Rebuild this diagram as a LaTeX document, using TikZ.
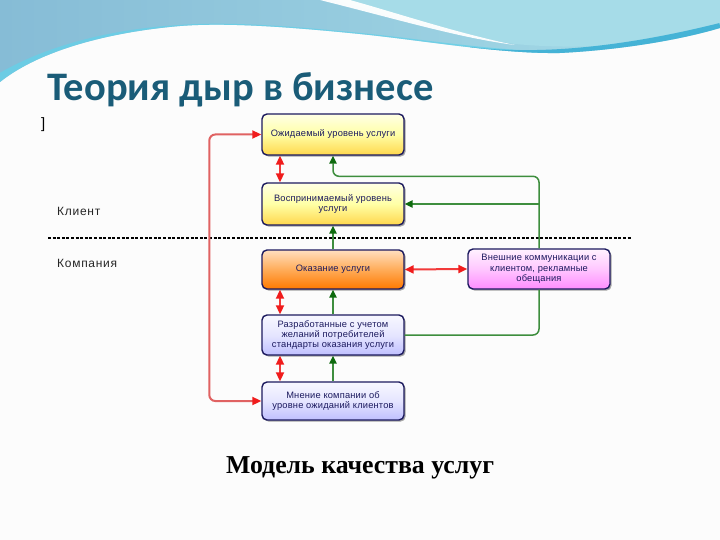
\documentclass[tikz,border=0pt]{standalone}
\usepackage{fontspec}
\setmainfont{Liberation Sans}
\newfontfamily\titlefont{Carlito}
\newfontfamily\capfont{Liberation Serif}
\newfontfamily\boxfont[LetterSpace=2]{Liberation Sans}
\newfontfamily\lblfont[LetterSpace=6]{Liberation Sans}
\usetikzlibrary{arrows.meta,shadows,positioning}
\definecolor{navy}{HTML}{1C1A5E}
\definecolor{titlec}{HTML}{1A5C78}
\definecolor{redl}{HTML}{E06262}
\definecolor{redh}{HTML}{F01C1C}
\definecolor{redm}{HTML}{F23A3A}
\definecolor{greenl}{HTML}{3E8E3E}
\definecolor{greenh}{HTML}{0E6A0E}
\definecolor{bgc}{HTML}{FCFCFC}
\definecolor{wavea}{HTML}{86BCD6}
\definecolor{waveb}{HTML}{A6DCE8}
\definecolor{wavec}{HTML}{66D0E8}
\definecolor{waved}{HTML}{45B3D6}
\tikzset{
  box/.style={draw=navy, line width=1.4pt, rounded corners=5pt,
    minimum width=142pt, align=center, inner sep=2pt, text=navy,
    font=\boxfont\fontsize{9.3}{10.4}\selectfont,
    drop shadow={shadow xshift=1.6pt, shadow yshift=-1.6pt, fill=black, opacity=0.35}},
  yelbox/.style={box, top color=white!90!yellow, bottom color=yellow!55!orange!70!white, middle color=yellow!35},
  orgbox/.style={box, top color=orange!25, bottom color=orange!95!red, middle color=orange!65},
  pinkbox/.style={box, top color=magenta!5, bottom color=magenta!45, middle color=magenta!22},
  bluebox/.style={box, top color=blue!3, bottom color=blue!25, middle color=blue!10},
  redarr/.style={draw=redm, line width=2pt, {Triangle[length=9pt,width=8pt,color=redh]}-{Triangle[length=9pt,width=8pt,color=redh]}},
  redlong/.style={draw=redl, line width=2pt, rounded corners=6pt, {Triangle[length=9pt,width=8pt,color=redh]}-{Triangle[length=9pt,width=8pt,color=redh]}},
  garr/.style={draw=greenl, line width=1.5pt, -{Triangle[length=8pt,width=7.5pt,color=greenh]}},
  gline/.style={draw=greenl, line width=1.5pt},
  lbl/.style={anchor=base west, text=black!85, font=\lblfont\fontsize{12}{14}\selectfont, inner sep=0pt}
}
\begin{document}
\begin{tikzpicture}[x=1pt,y=-1pt]
\useasboundingbox (0,0) rectangle (720,540);
\fill[bgc] (0,0) rectangle (720,540);
% top wave
\begin{scope}
\clip (0,0) -- (720,0) -- (720,28) .. controls (680,40) and (620,50) .. (560,53)
  .. controls (500,54) and (420,40) .. (360,34) .. controls (300,28) and (230,22) .. (180,26)
  .. controls (110,32) and (40,50) .. (0,82) -- cycle;
\shade[left color=wavea, right color=waveb] (0,0) rectangle (720,90);
\fill[waveb] (335,0) .. controls (400,18) and (460,36) .. (515,44)
  .. controls (600,52) and (680,40) .. (720,24) -- (720,0) -- cycle;
\draw[wavec, line width=22pt, opacity=0.8] (-10,92) .. controls (40,58) and (110,40) .. (180,36)
  .. controls (230,32) and (300,38) .. (360,44) .. controls (420,50) and (480,60) .. (540,62);
\draw[waved, line width=6pt] (470,50) .. controls (520,56) and (600,56) .. (720,26);
\fill[white, opacity=0.95] (320,0) .. controls (400,20) and (460,38) .. (515,45)
  .. controls (460,34) and (400,14) .. (350,0) -- cycle;
\end{scope}
% title
\node[anchor=base west, inner sep=0pt, text=titlec, font=\titlefont\bfseries\fontsize{40.5}{44}\selectfont] (title) at (47,101) {Теория дыр в бизнесе};
\node[anchor=base west, inner sep=0pt, font=\fontsize{15}{16}\selectfont] (br) at (41,129) {]};
% labels and divider
\node[lbl] (kl) at (57,215) {Клиент};
\node[lbl] (ko) at (57,267) {Компания};
\coordinate (dl) at (48,238);
\coordinate (dr) at (632,238);
\draw[black, line width=1.3pt, dash pattern=on 3pt off 1.6pt] (dl) -- (dr);
% boxes
\node[yelbox, minimum height=41pt] (b1) at (333,134.5) {Ожидаемый уровень услуги};
\node[yelbox, minimum height=42pt] (b2) at (333,204) {Воспринимаемый уровень\\услуги};
\node[orgbox, minimum height=39pt] (b3) at (333,269.5) {Оказание услуги};
\node[pinkbox, minimum height=40pt] (b4) at (539,269) {Внешние коммуникации с\\клиентом, рекламные\\обещания};
\node[bluebox, minimum height=40pt] (b5) at (333,335) {Разработанные с учетом\\желаний потребителей\\стандарты оказания услуги};
\node[bluebox, minimum height=38pt] (b6) at (333,401) {Мнение компании об\\уровне ожиданий клиентов};
% red connectors
\draw[redlong] (b6.west) -- ++(-52,0) |- (b1.west);
\draw[redarr] ([xshift=-53pt]b1.south) -- ([xshift=-53pt]b2.north);
\draw[redarr] ([xshift=-53pt]b3.south) -- ([xshift=-53pt]b5.north);
\draw[redarr] ([xshift=-53pt]b5.south) -- ([xshift=-53pt]b6.north);
\draw[redarr] (b3.east) -- (b4.west);
% green connectors
\draw[garr, rounded corners=6pt] (b4.north) -- ++(0,-72) -| (b1.south);
\draw[garr] (b4.north |- b2.east) -- (b2.east);
\draw[gline, rounded corners=6pt] (b4.south) |- (b5.east);
\draw[garr] (b3.north) -- (b2.south);
\draw[garr] (b5.north) -- (b3.south);
\draw[garr] (b6.north) -- (b5.south);
% caption
\node[anchor=base, inner sep=0pt, font=\capfont\bfseries\fontsize{25.8}{28}\selectfont] (cap) at (360,473) {Модель качества услуг};
\end{tikzpicture}
\end{document}
